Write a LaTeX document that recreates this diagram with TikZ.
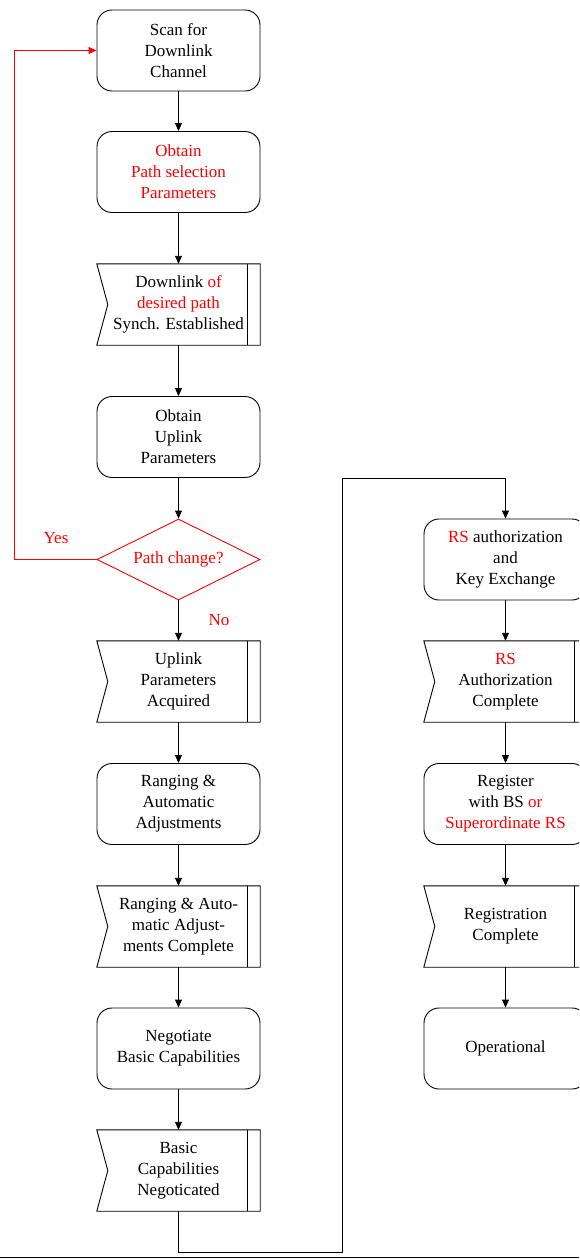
\documentclass[tikz,border=0pt]{standalone}
\usepackage{fontspec}
\setmainfont{Liberation Serif}
\usetikzlibrary{shapes.geometric,arrows.meta,calc}
\tikzset{
  base/.style={minimum width=163pt, minimum height=81pt, align=center, inner sep=2pt,
    font=\fontsize{17}{21}\selectfont},
  procbox/.style={base, draw, line width=0.9pt, rounded corners=15pt},
  statebox/.style={base},
  decbox/.style={base, draw=red, text=red, line width=0.9pt, diamond, aspect=2, inner sep=0pt},
  lbl/.style={text=red, font=\fontsize{17}{21}\selectfont},
  arr/.style={line width=0.9pt, -{Triangle[length=8pt,width=7pt]}},
  ln/.style={line width=0.9pt}
}
\newcommand{\drawstate}[1]{%
  \draw[ln] (#1.north west) -- (#1.north east) -- (#1.south east) -- (#1.south west)
     -- ($(#1.west)+(11,0)$) -- cycle;
  \draw[ln] ($(#1.north east)+(-13,0)$) -- ($(#1.south east)+(-13,0)$);}
\begin{document}
\begin{tikzpicture}[x=1pt,y=-1pt]
\useasboundingbox (0,0) rectangle (579,1259);
\clip (0,0) rectangle (579,1259);
% left column
\node[procbox] (b1) at (178.5,50.5) {Scan for\\Downlink\\Channel};
\node[procbox] (b2) at (178.5,172) {\color{red}Obtain\\\color{red}Path selection\\\color{red}Parameters};
\node[statebox] (s3) at (178.5,304.5) {Downlink {\color{red}of}\\{\color{red}desired path}\\Synch. Established};
\node[procbox] (b4) at (178.5,437) {Obtain\\Uplink\\Parameters};
\node[decbox] (d5) at (178.5,559.5) {Path change?};
\node[statebox] (s6) at (178.5,681.5) {Uplink\\Parameters\\Acquired};
\node[procbox] (b7) at (178.5,804) {Ranging \&\\Automatic\\Adjustments};
\node[statebox] (s8) at (178.5,926.5) {Ranging \& Auto-\\matic Adjust-\\ments Complete};
\node[procbox] (b9) at (178.5,1048.5) {Negotiate\\Basic Capabilities};
\node[statebox] (s10) at (178.5,1170.5) {Basic\\Capabilities\\Negoticated};
% right column
\node[procbox] (r1) at (505.5,559.5) {{\color{red}RS} authorization\\and\\Key Exchange};
\node[statebox] (r2) at (505.5,681.5) {\color{red}RS\\Authorization\\Complete};
\node[procbox] (r3) at (505.5,804) {Register\\with BS {\color{red}or}\\\color{red}Superordinate RS};
\node[statebox] (r4) at (505.5,926.5) {Registration\\Complete};
\node[procbox] (r5) at (505.5,1048.5) {Operational};
\drawstate{s3}\drawstate{s6}\drawstate{s8}\drawstate{s10}\drawstate{r2}\drawstate{r4}
% labels
\node[lbl] (yes) at (56,538) {Yes};
\node[lbl] (no) at (219,620) {No};
% connectors
\draw[arr] (b1) -- (b2);
\draw[arr] (b2) -- (s3);
\draw[arr] (s3) -- (b4);
\draw[arr] (b4) -- (d5);
\draw[arr] (d5) -- (s6);
\draw[arr] (s6) -- (b7);
\draw[arr] (b7) -- (s8);
\draw[arr] (s8) -- (b9);
\draw[arr] (b9) -- (s10);
\draw[arr] (r1) -- (r2);
\draw[arr] (r2) -- (r3);
\draw[arr] (r3) -- (r4);
\draw[arr] (r4) -- (r5);
\coordinate (lp) at (14,559.5);
\draw[arr, red] (d5.west) -- (lp) |- (b1.west);
\coordinate (c1) at (178.5,1252);
\coordinate (c2) at (342,1252);
\coordinate (c3) at (342,478);
\coordinate (c4) at (505.5,478);
\draw[arr] (s10.south) -- (c1) -- (c2) -- (c3) -- (c4) -- (r1.north);
% bottom rule
\coordinate (rl) at (0,1257.5);
\coordinate (rr) at (579,1257.5);
\draw[line width=1.5pt] (rl) -- (rr);
\end{tikzpicture}
\end{document}
